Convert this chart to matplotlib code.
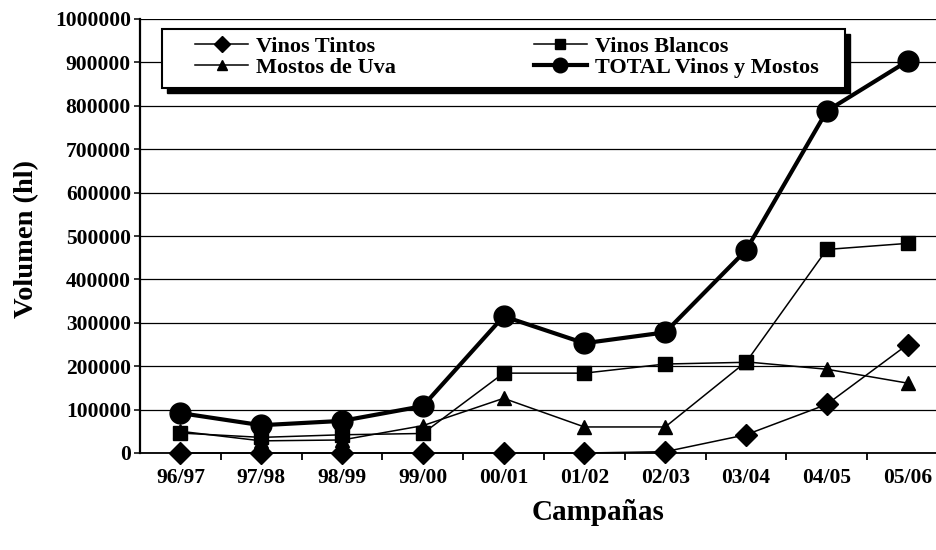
import matplotlib
matplotlib.use("Agg")
import matplotlib.pyplot as plt
from matplotlib.patches import Rectangle
from matplotlib.ticker import FixedLocator
from matplotlib.transforms import ScaledTranslation

campaigns = ["96/97", "97/98", "98/99", "99/00", "00/01", "01/02", "02/03", "03/04", "04/05", "05/06"]
vinos_tintos = [0, 0, 0, 0, 0, 0, 3000, 42000, 112000, 250000]
vinos_blancos = [46000, 36000, 42000, 45000, 184000, 184000, 205000, 209000, 469000, 483000]
mostos_uva = [50000, 28000, 30000, 63000, 126000, 60000, 60000, 210000, 193000, 161000]
total = [92000, 64000, 74000, 108000, 315000, 253000, 278000, 467000, 788000, 903000]
yticks = [0, 100000, 200000, 300000, 400000, 500000, 600000, 700000, 800000, 900000, 1000000]

plt.rcParams['font.family'] = ['Liberation Serif', 'DejaVu Serif']
plt.rcParams['font.weight'] = 'bold'

fig = plt.figure(figsize=(9.37, 5.5), dpi=100)
ax = fig.add_axes([140/937, 1-453/550, 808/937, 434/550])

x = list(range(len(campaigns)))
l1, = ax.plot(x, vinos_tintos, color='black', lw=1.1, marker='D', ms=11, clip_on=False, zorder=3, label='Vinos Tintos')
l2, = ax.plot(x, vinos_blancos, color='black', lw=1.1, marker='s', ms=9.5, clip_on=False, zorder=3, label='Vinos Blancos')
l3, = ax.plot(x, mostos_uva, color='black', lw=1.1, marker='^', ms=10.5, clip_on=False, zorder=3, label='Mostos de Uva')
l4, = ax.plot(x, total, color='black', lw=3, marker='o', ms=15, clip_on=False, zorder=4, label='TOTAL Vinos y Mostos')

ax.set_xlim(-0.5, len(campaigns) - 0.5)
ax.set_ylim(0, 1000000)
ax.yaxis.set_major_locator(FixedLocator(yticks))
ax.set_yticklabels([str(v) for v in yticks], fontsize=15.5, fontweight='bold')
ax.set_xticks(x)
ax.set_xticklabels(campaigns, fontsize=15.5, fontweight='bold')
ax.set_xticks([i + 0.5 for i in range(len(campaigns))], minor=True)
ax.tick_params(axis='x', which='major', length=0, pad=11)
ax.tick_params(axis='x', which='minor', length=5, width=1.3, direction='out', color='black')
ax.tick_params(axis='y', length=4.5, width=1.1, pad=2, direction='out')
ax.grid(axis='y', color='black', lw=0.9)
ax.set_axisbelow(True)
for s in ['top', 'right']:
    ax.spines[s].set_visible(False)
ax.spines['left'].set_linewidth(1.6)
ax.spines['bottom'].set_linewidth(1.3)

# legend box with shadow
bx0, bx1 = (162-140)/808, (845-140)/808
by0, by1 = 1-(88-19)/434, 1-(29-19)/434
shadow = Rectangle((bx0, by0), bx1-bx0, by1-by0, transform=ax.transAxes + ScaledTranslation(5/100, -5/100, fig.dpi_scale_trans),
                   facecolor='black', edgecolor='black', zorder=5, clip_on=False)
box = Rectangle((bx0, by0), bx1-bx0, by1-by0, transform=ax.transAxes,
                facecolor='white', edgecolor='black', lw=1.5, zorder=5.1, clip_on=False)
ax.add_artist(shadow)
ax.add_artist(box)

leg = ax.legend(handles=[l1, l3, l2, l4], ncol=2, frameon=False,
                loc='center left', bbox_to_anchor=((195-140)/808, 1-(57-19)/434),
                borderpad=0, borderaxespad=0, handlelength=2.4, handletextpad=0.35,
                columnspacing=6.2, labelspacing=0.0, markerscale=0.7,
                prop={'family': 'Liberation Serif', 'weight': 'bold', 'size': 16})
leg.set_zorder(6)

fig.text(27/937, 1-239/550, 'Volumen (hl)', rotation=90, ha='center', va='center', fontsize=20.5, fontweight='bold')
fig.text(598/937, 1-520/550, 'Campañas', ha='center', va='baseline', fontsize=21, fontweight='bold')

fig.savefig('out.png', dpi=100)
